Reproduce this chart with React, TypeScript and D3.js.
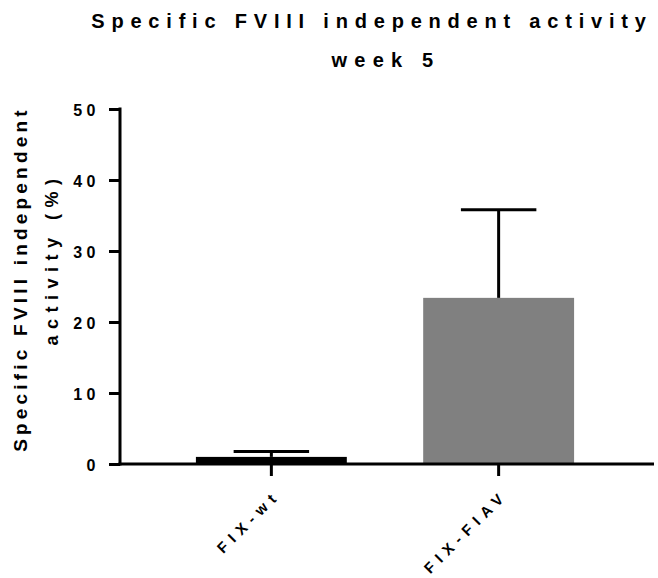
import React, { useEffect, useRef } from 'react';
import * as d3 from 'd3';

const categories = ['FIX-wt', 'FIX-FIAV'];
const means = [1.0, 23.4];
const errors = [0.75, 12.4];
const barColors = ['#000000', '#808080'];
const yTicks = [0, 10, 20, 30, 40, 50];
const titleLines = ['Specific FVIII independent activity', 'week 5'];
const yLabelLines = ['Specific FVIII independent', 'activity (%)'];

function App() {
  const svgRef = useRef<SVGSVGElement>(null);

  useEffect(() => {
    const font = '"Liberation Sans", Arial, sans-serif';
    const svg = d3.select(svgRef.current);
    svg.selectAll('*').remove();

    const x = d3.scaleBand<string>()
      .domain(categories)
      .range([120, 650])
      .paddingInner(0.336)
      .paddingOuter(0.334);
    const y = d3.scaleLinear().domain([0, 50]).range([464, 109]);

    // bars
    svg.selectAll('rect.bar')
      .data(categories)
      .enter()
      .append('rect')
      .attr('class', 'bar')
      .attr('x', d => x(d)!)
      .attr('width', x.bandwidth())
      .attr('y', (d, i) => y(means[i]))
      .attr('height', (d, i) => y(0) - y(means[i]))
      .attr('fill', (d, i) => barColors[i]);

    // error bars (upper only)
    categories.forEach((c, i) => {
      const cx = x(c)! + x.bandwidth() / 2;
      const top = y(means[i] + errors[i]);
      const g = svg.append('g').attr('stroke', '#000').attr('stroke-width', 3);
      g.append('line').attr('x1', cx).attr('x2', cx).attr('y1', y(means[i])).attr('y2', top);
      g.append('line')
        .attr('x1', cx - x.bandwidth() / 4)
        .attr('x2', cx + x.bandwidth() / 4)
        .attr('y1', top)
        .attr('y2', top);
    });

    // y axis
    const yAxis = svg.append('g').attr('transform', 'translate(120,0)')
      .call(d3.axisLeft(y).tickValues(yTicks).tickSize(11).tickFormat(d3.format('d')));
    yAxis.select('.domain').remove();
    yAxis.selectAll('line').attr('stroke-width', 3);
    yAxis.append('line').attr('x1', 0).attr('x2', 0).attr('y1', y(50) - 1.5).attr('y2', y(0) + 1.5)
      .attr('stroke', '#000').attr('stroke-width', 3);
    yAxis.selectAll('.tick text')
      .attr('font-family', font)
      .attr('font-size', 16)
      .attr('font-weight', 'bold')
      .attr('letter-spacing', 4.5)
      .attr('x', -20)
      .attr('dy', 6.5)
      .attr('fill', '#000');

    // x axis
    const xAxis = svg.append('g').attr('transform', `translate(0,${y(0)})`)
      .call(d3.axisBottom(x).tickSize(12).tickPadding(0));
    xAxis.select('.domain').remove();
    xAxis.selectAll('line').attr('stroke-width', 3);
    xAxis.append('line').attr('x1', 118.5).attr('x2', 654).attr('y1', 0).attr('y2', 0)
      .attr('stroke', '#000').attr('stroke-width', 3);
    xAxis.selectAll('.tick text')
      .attr('font-family', font)
      .attr('font-size', 15)
      .attr('font-weight', 'bold')
      .attr('letter-spacing', 6.2)
      .attr('text-anchor', 'end')
      .attr('fill', '#000')
      .attr('y', 0)
      .attr('dy', 0)
      .attr('transform', 'translate(10,32) rotate(-45)');

    // title
    svg.append('g')
      .selectAll('text')
      .data(titleLines)
      .enter()
      .append('text')
      .attr('x', (d, i) => (i === 0 ? 372 : 386))
      .attr('y', (d, i) => (i === 0 ? 27.5 : 66.5))
      .attr('text-anchor', 'middle')
      .attr('font-family', font)
      .attr('font-size', 20)
      .attr('font-weight', 'bold')
      .attr('letter-spacing', (d, i) => (i === 0 ? 6.8 : 7.2))
      .text(d => d);

    // y label
    svg.append('g')
      .selectAll('text')
      .data(yLabelLines)
      .enter()
      .append('text')
      .attr('transform', (d, i) => `translate(${i === 0 ? 27 : 58},${i === 0 ? 279 : 259}) rotate(-90)`)
      .attr('text-anchor', 'middle')
      .attr('font-family', font)
      .attr('font-size', (d, i) => (i === 0 ? 19 : 18))
      .attr('font-weight', 'bold')
      .attr('letter-spacing', (d, i) => (i === 0 ? 4.2 : 6.5))
      .text(d => d);
  }, []);

  return (
    <svg
      ref={svgRef}
      width={658}
      height={578}
      style={{ position: 'absolute', left: 0, top: 0, background: '#fff' }}
    />
  );
}

export default App;
